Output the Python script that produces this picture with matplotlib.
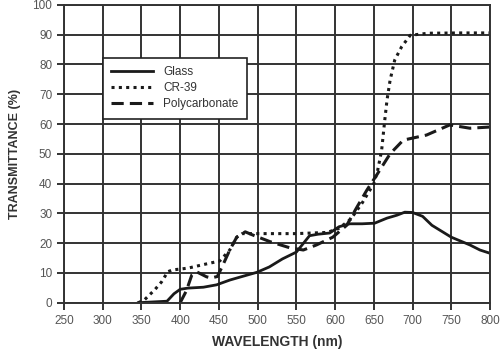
import matplotlib
matplotlib.use('Agg')
import matplotlib.pyplot as plt

plt.rcParams['font.family'] = ['Liberation Sans', 'DejaVu Sans']

# values
glass_x = [346, 383, 392, 400, 410, 430, 447, 464, 480, 499, 515, 532, 550, 567, 578, 593, 605, 619, 635, 651, 667, 680, 690, 700, 713, 725, 750, 774, 787, 800]
glass_y = [0, 0.5, 3, 4.5, 4.9, 5.2, 6, 7.6, 8.8, 10.2, 12, 14.7, 17, 22.5, 23, 23.4, 25.5, 26.5, 26.5, 26.7, 28.4, 29.4, 30.4, 30.3, 29, 26, 22, 19.4, 17.7, 16.6]

cr39_x = [346, 354, 367, 376, 384, 390, 410, 430, 451, 464, 473, 480, 500, 550, 570, 590, 605, 620, 635, 650, 655, 660, 664, 667, 671, 677, 686, 697, 720, 760, 800]
cr39_y = [0, 1, 4.3, 7, 10.4, 11, 11.6, 12.8, 14, 17.7, 22, 23.2, 23.2, 23.2, 23.4, 23.6, 25, 28, 33.5, 40, 44.5, 51, 61, 68, 74.7, 81.5, 86, 89.8, 90.5, 90.6, 90.6]

poly_x = [400, 408, 415, 421, 434, 440, 448, 454, 464, 473, 484, 494, 516, 542, 559, 576, 597, 615, 628, 641, 654, 671, 688, 718, 748, 774, 800]
poly_y = [0, 4, 9.3, 10.4, 8.7, 8.3, 8.8, 12, 17.7, 22, 23.8, 22.7, 20.5, 18.4, 17.7, 19.4, 22, 26, 32, 37.8, 43, 50, 54.6, 56.3, 59.7, 58.6, 59]

xticks = list(range(250, 801, 50))
yticks = list(range(0, 101, 10))

fig = plt.figure(figsize=(5, 3.53), dpi=100)
ax = fig.add_axes([0.128, 0.1425, 0.852, 0.8435])

ax.plot(glass_x, glass_y, color='#1a1a1a', lw=2.0, ls='-', label='Glass')
ax.plot(cr39_x, cr39_y, color='#1a1a1a', lw=2.2, ls=(0, (1, 1.4)), label='CR-39')
ax.plot(poly_x, poly_y, color='#1a1a1a', lw=2.2, ls=(0, (4, 2)), label='Polycarbonate')

ax.set_xlim(250, 800)
ax.set_ylim(0, 100)
ax.set_xticks(xticks)
ax.set_yticks(yticks)
ax.grid(True, color='#333333', lw=1.4)
ax.set_axisbelow(True)
for s in ax.spines.values():
    s.set_color('#333333')
    s.set_linewidth(1.4)
ax.tick_params(colors='#333333', labelcolor='#555555', labelsize=8.5, length=5, width=1.4)

ax.set_xlabel('WAVELENGTH (nm)', fontsize=10, fontweight='bold', color='#333333', labelpad=6)
ax.set_ylabel('TRANSMITTANCE (%)', fontsize=9, fontweight='bold', color='#333333', labelpad=8)

leg = ax.legend(loc='upper left', bbox_to_anchor=(0.092, 0.822), fontsize=8.5,
                frameon=True, fancybox=False, handlelength=3.5, borderpad=0.7,
                labelspacing=0.35, handletextpad=0.9, borderaxespad=0)
leg.get_frame().set_edgecolor('#222222')
leg.get_frame().set_linewidth(1.2)
leg.get_frame().set_alpha(1)
for t in leg.get_texts():
    t.set_color('#333333')

fig.savefig('out.png', dpi=100)
